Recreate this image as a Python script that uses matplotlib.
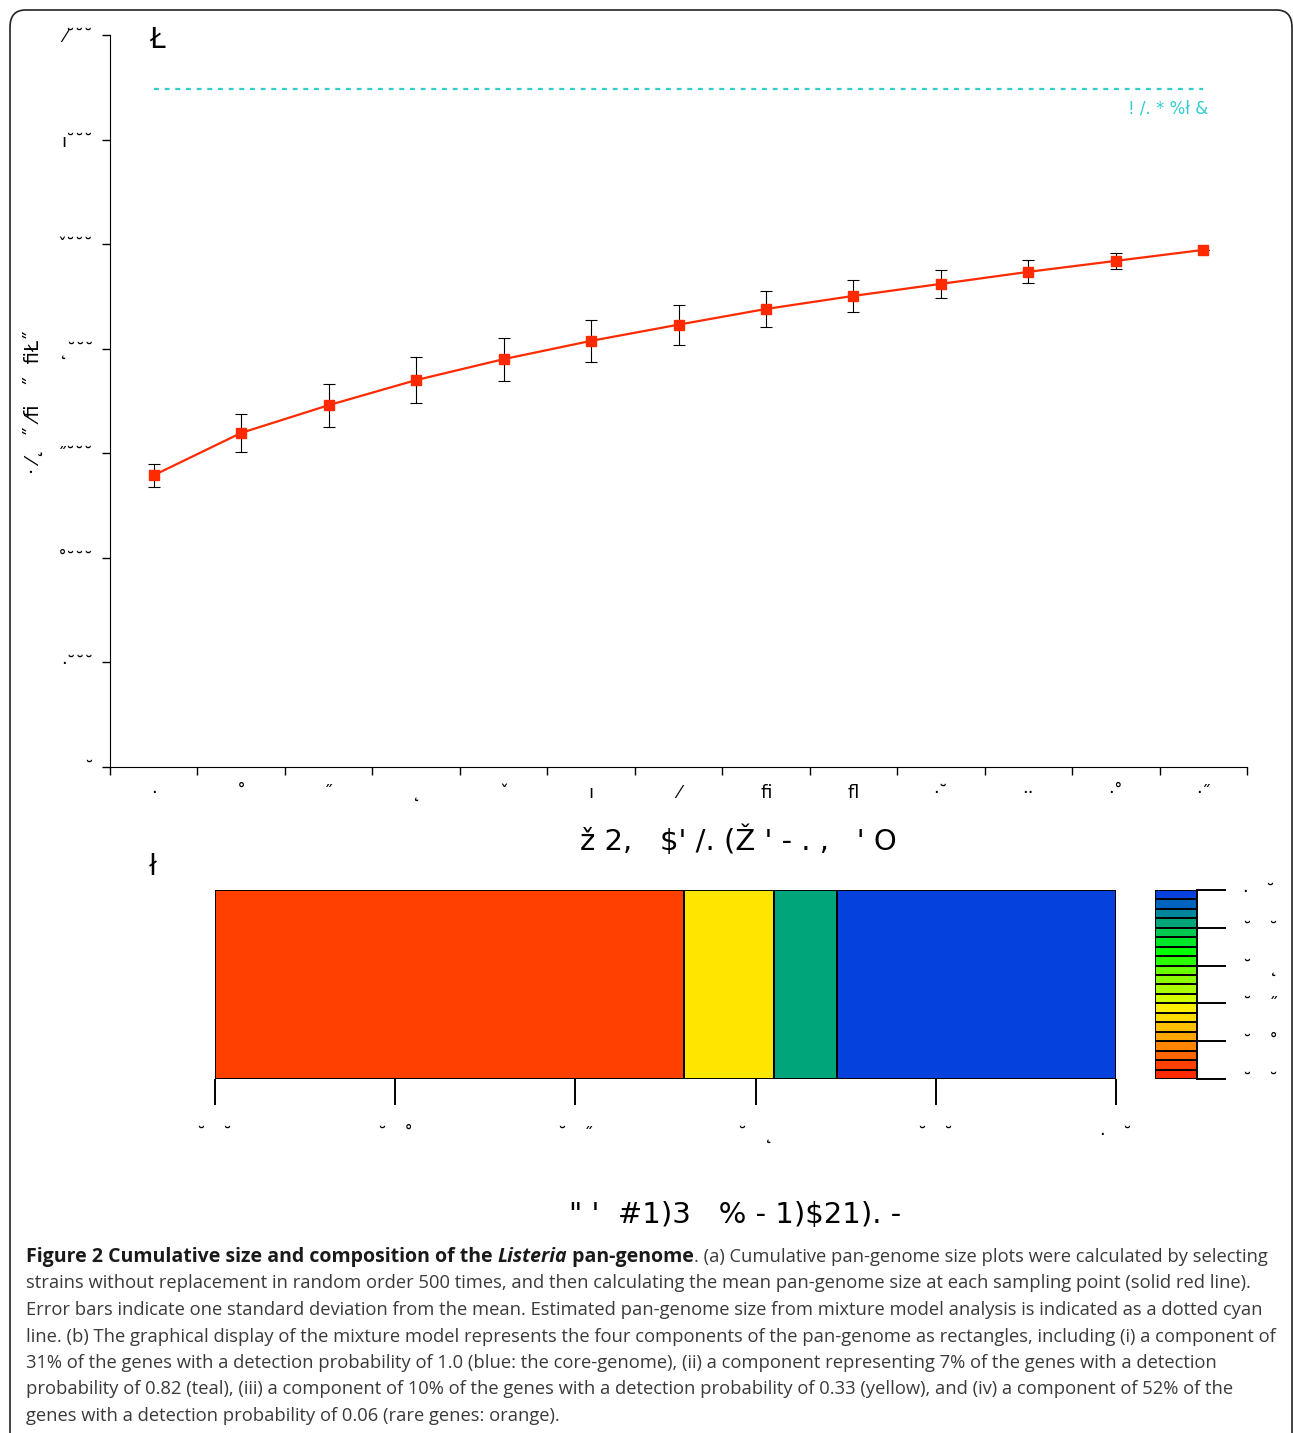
import numpy as np
import matplotlib
matplotlib.use("Agg")
import matplotlib.pyplot as plt
from matplotlib.patches import FancyBboxPatch

# panel (a): cumulative pan-genome size
n_strains = np.arange(1, 14)
pan_mean = [2790, 3195, 3460, 3700, 3900, 4075, 4230, 4380, 4505, 4620, 4735, 4840, 4945]
pan_sd = [110, 180, 205, 220, 205, 200, 190, 170, 150, 135, 110, 75, 0]
estimated_size = 6480

# tick labels as they appear in the figure (broken font encoding)
a_xticklabels = ["·", "˚", "˝", "˛", "ˇ", "ı", "⁄", "ﬁ", "ﬂ", "·˘", "··", "·˚", "·˝"]
a_yticks = [0, 1000, 2000, 3000, 4000, 5000, 6000, 7000]
a_yticklabels = ["˘", "·˘˘˘", "˚˘˘˘", "˝˘˘˘", "˛˘˘˘", "ˇ˘˘˘", "ı˘˘˘", "⁄˘˘˘"]
a_ylabel = "· ⁄˛  ˝ ⁄ﬁ   ˝  ﬁŁ˝"
a_xlabel = "ž 2,   $' /. (Ž ' - . ,   ' O"
est_label = "! /. * %ł &"

# panel (b): mixture model components
comp_frac = [0.52, 0.10, 0.07, 0.31]
comp_colors = ["#FF4000", "#FFE600", "#00A67A", "#0541DD"]
b_ticks = [0.0, 0.2, 0.4, 0.6, 0.8, 1.0]
b_ticklabels = ["˘   ˘", "˘   ˚", "˘   ˝", "˘   ˛", "˘   ˘", "·   ˘"]
b_xlabel = "\" '  #1)3   % - 1)$21). -"
scale_colors = ["#FF2A00", "#FF4000", "#FF6600", "#FF8400", "#FFA500", "#FFC000",
                "#FFDD00", "#FFF000", "#D4FF00", "#AAFF00", "#8AFF00", "#6AFF00",
                "#2AFF00", "#00FF00", "#00E628", "#00C850", "#00A67A", "#00869C",
                "#0064BE", "#0541DD"]

W, H = 1293, 1433
fig = plt.figure(figsize=(W / 100, H / 100), dpi=100)


def box(x0, y0, x1, y1):
    # pixel box (top-left origin) -> figure fraction rect
    return [x0 / W, 1 - y1 / H, (x1 - x0) / W, (y1 - y0) / H]


# rounded frame
frame = FancyBboxPatch((10 / W, -20 / H), (1282 / W), 1443 / H,
                       boxstyle="round,pad=0,rounding_size=0.012",
                       transform=fig.transFigure, fill=False, ec="#222222", lw=1.2)
fig.patches.append(frame)

# ---- panel a ----
ax = fig.add_axes(box(110, 35, 1247, 767))
ax.plot(n_strains, pan_mean, color="#FF2A00", lw=1.6, marker="s", ms=7.5,
        mfc="#FF2A00", mec="#FF2A00", zorder=3)
ax.errorbar(n_strains, pan_mean, yerr=pan_sd, fmt="none", ecolor="black",
            elinewidth=0.8, capsize=4, capthick=0.8, zorder=2)
ax.plot([n_strains[0], n_strains[-1]], [estimated_size, estimated_size],
        color="#33CCCC", lw=1.6, dashes=(2.2, 2.6))
ax.text(n_strains[-1] + 0.05, estimated_size - 100, est_label, color="#33CCCC",
        fontsize=12, ha="right", va="top")
ax.set_xlim(0.5, 13.5)
ax.set_ylim(0, 7000)
ax.set_xticks(np.arange(0.5, 14, 1))
ax.set_xticklabels([])
ax.set_xticks(n_strains, minor=True)
ax.set_xticklabels(a_xticklabels, minor=True, fontsize=13)
ax.tick_params(axis="x", which="minor", length=0, pad=12)
ax.tick_params(axis="x", which="major", length=6, width=1)
ax.set_yticks(a_yticks)
ax.set_yticklabels(a_yticklabels, fontsize=13)
ax.tick_params(axis="y", length=6, width=1, pad=6)
for s in ["top", "right"]:
    ax.spines[s].set_visible(False)
fig.text(738 / W, 1 - 841 / H, a_xlabel, fontsize=21, ha="center", va="center")
fig.text(33 / W, 1 - 402 / H, a_ylabel, rotation=90, fontsize=14,
         ha="center", va="center")
fig.text(157 / W, 1 - 40 / H, "Ł", fontsize=20, ha="center", va="center")

# ---- panel b ----
bx = fig.add_axes(box(215, 890, 1116, 1079))
left = 0
for f, c in zip(comp_frac, comp_colors):
    bx.barh(0.5, f, left=left, height=1.0, color=c, edgecolor="black", lw=1.4)
    left += f
bx.set_xlim(0, 1)
bx.set_ylim(0, 1)
for s in bx.spines.values():
    s.set_visible(False)
bx.set_yticks([])
bx.set_xticks(b_ticks)
bx.set_xticklabels(b_ticklabels, fontsize=13)
bx.tick_params(axis="x", length=19, width=1.4, pad=15)
fig.text(735 / W, 1 - 1215 / H, b_xlabel, fontsize=21, ha="center", va="center")
fig.text(153 / W, 1 - 867 / H, "ł", fontsize=20, ha="center", va="center")

# colour scale
cx = fig.add_axes(box(1155, 890, 1197, 1079))
nb = len(scale_colors)
for i, c in enumerate(scale_colors):
    cx.bar(0.5, 1 / nb, bottom=i / nb, width=1.0, color=c, edgecolor="black", lw=1.4)
cx.set_xlim(0, 1)
cx.set_ylim(0, 1)
for s in ["top", "bottom", "left"]:
    cx.spines[s].set_visible(False)
cx.spines["right"].set_linewidth(1.4)
cx.set_xticks([])
cx.yaxis.tick_right()
cx.set_yticks(b_ticks)
cx.set_yticklabels(b_ticklabels, fontsize=13)
cx.tick_params(axis="y", length=21, width=1.4, pad=12)

# ---- caption ----
cap_font = "Open Sans"
reg = dict(fontsize=13.2, family=cap_font, color="#3a3a3a")
bold = dict(fontsize=14.0, family=cap_font, color="#1a1a1a", weight="bold")
boldit = dict(bold, style="italic")
caption = [
    [("Figure 2 Cumulative size and composition of the ", bold), ("Listeria", boldit),
     (" pan-genome", bold),
     (". (a) Cumulative pan-genome size plots were calculated by selecting", reg)],
    [("strains without replacement in random order 500 times, and then calculating the mean pan-genome size at each sampling point (solid red line).", reg)],
    [("Error bars indicate one standard deviation from the mean. Estimated pan-genome size from mixture model analysis is indicated as a dotted cyan", reg)],
    [("line. (b) The graphical display of the mixture model represents the four components of the pan-genome as rectangles, including (i) a component of", reg)],
    [("31% of the genes with a detection probability of 1.0 (blue: the core-genome), (ii) a component representing 7% of the genes with a detection", reg)],
    [("probability of 0.82 (teal), (iii) a component of 10% of the genes with a detection probability of 0.33 (yellow), and (iv) a component of 52% of the", reg)],
    [("genes with a detection probability of 0.06 (rare genes: orange).", reg)],
]
renderer = fig.canvas.get_renderer()
for k, runs in enumerate(caption):
    x = 26
    y = 1257 + k * 26.5
    for s, kw in runs:
        t = fig.text(x / W, 1 - y / H, s, ha="left", va="center", **kw)
        x += t.get_window_extent(renderer).width

fig.savefig("out.png", dpi=100)
